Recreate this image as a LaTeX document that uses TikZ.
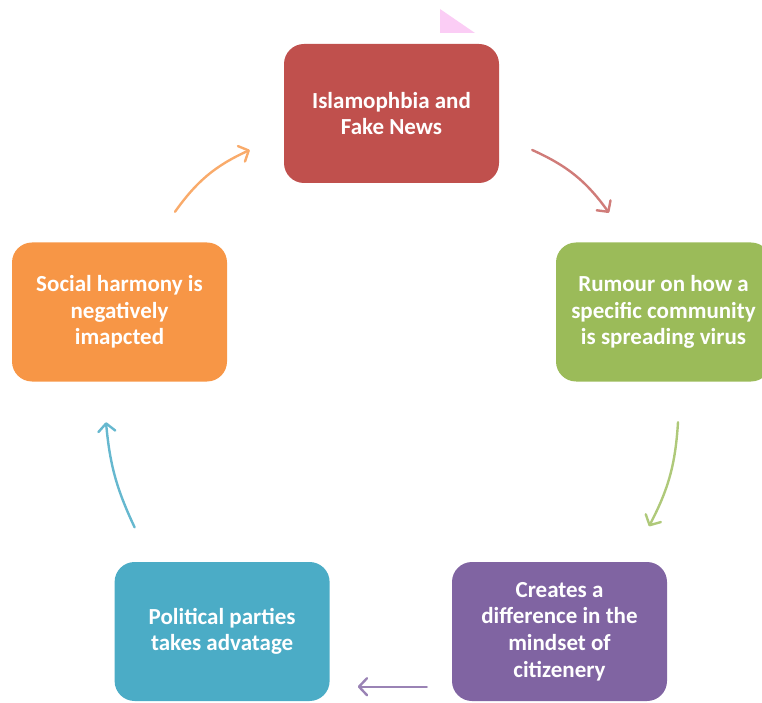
\documentclass[tikz,border=0pt]{standalone}
\usepackage{fontspec}
\setmainfont{Carlito}
\usetikzlibrary{shapes, arrows.meta, positioning, calc}
\definecolor{fakered}{HTML}{C0504D}
\definecolor{rumourgreen}{HTML}{9BBB59}
\definecolor{mindpurple}{HTML}{8064A2}
\definecolor{partyblue}{HTML}{4BACC6}
\definecolor{harmonyorange}{HTML}{F79646}
\definecolor{pinktip}{HTML}{FBCDF5}

\begin{document}
\begin{tikzpicture}[x=1pt, y=1pt,
	stage/.style={rounded corners=20pt, minimum width=215pt, minimum height=139pt, align=center, text=white, font=\bfseries\fontsize{23}{26.6}\selectfont},
	flow/.style={line width=2.4pt, line cap=round, -{Straight Barb[length=8pt,width=17pt,round]}}]
	\useasboundingbox (0,0) rectangle (762,702);
	\fill[pinktip] (440,693) -- (440,669) -- (475,669) -- cycle;
	\node[stage, fill=fakered] (fake) at (391.5,588.5) {Islamophbia and\\Fake News};
	\node[stage, fill=rumourgreen] (rumour) at (663.5,390) {Rumour on how a\\specific community\\is spreading virus};
	\node[stage, fill=mindpurple] (mindset) at (559.5,70.5) {Creates a\\difference in the\\mindset of\\citizenery};
	\node[stage, fill=partyblue, left=122pt of mindset] (parties) {Political parties\\takes advatage};
	\node[stage, fill=harmonyorange] (harmony) at (119.5,390) {Social harmony is\\negatively\\imapcted};
	\coordinate (r1) at ($(fake.east)+(33,-36.5)$);
	\coordinate (r2) at ($(rumour.north)+(-54.5,29.5)$);
	\coordinate (g1) at ($(rumour.south)+(14.5,-40.5)$);
	\coordinate (g2) at ($(mindset.north)+(89.5,35.5)$);
	\coordinate (p1) at ($(mindset.south west)+(-25,14.5)$);
	\coordinate (p2) at ($(parties.south east)+(28,14.5)$);
	\coordinate (b1) at ($(parties.north)+(-87.5,34.5)$);
	\coordinate (b2) at ($(harmony.south)+(-13.5,-40.5)$);
	\coordinate (o1) at ($(harmony.north)+(55.5,30.5)$);
	\coordinate (o2) at ($(fake.west)+(-34,-36.5)$);
	\draw[flow, fakered!75!white] (r1) to[bend left=15] (r2);
	\draw[flow, rumourgreen!80!white] (g1) to[bend left=12] (g2);
	\draw[flow, mindpurple!80!white] (p1) -- (p2);
	\draw[flow, partyblue!85!white] (b1) to[bend left=10] (b2);
	\draw[flow, harmonyorange!80!white] (o1) to[bend left=15] (o2);
\end{tikzpicture}
\end{document}
